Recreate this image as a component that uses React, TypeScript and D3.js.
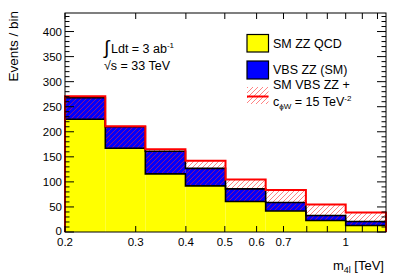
import React from 'react'
import * as d3 from 'd3'

// bin edges in TeV (log-spaced) and stacked contents per bin
const binEdges = [0.2, 0.252, 0.317, 0.399, 0.502, 0.632, 0.796, 1.0, 1.26]
const qcd = [225, 167, 116, 92, 61, 42, 23, 13]
const vbsSM = [43, 43, 45, 35, 25, 17, 10, 8]
const vbsBSM = [46, 44, 49, 50, 44, 42, 32, 26] // SM VBS ZZ + c_phiW = 15 TeV^-2
const xTickLabels = [0.2, 0.3, 0.4, 0.5, 0.6, 0.7, 1]
const xTicks = [0.2, 0.3, 0.4, 0.5, 0.6, 0.7, 0.8, 0.9, 1, 1.1, 1.2]
const yMax = 437

const W = 407
const H = 276
const margin = { top: 13, right: 21, bottom: 44, left: 65 }
const font = 'Liberation Sans, Arial, Helvetica, sans-serif'

const App = () => {
  const x = d3.scaleLog().domain([0.2, 1.26]).range([margin.left, W - margin.right])
  const y = d3.scaleLinear().domain([0, yMax]).range([H - margin.bottom, margin.top])

  const qcdTop = qcd
  const smTop = qcd.map((d, i) => d + vbsSM[i])
  const bsmTop = qcd.map((d, i) => d + vbsBSM[i])

  // step outline of a histogram, closed down to zero at both ends
  const stepPath = (vals: number[]) => {
    const p = d3.path()
    p.moveTo(x(binEdges[0]), y(0))
    vals.forEach((v, i) => {
      p.lineTo(x(binEdges[i]), y(v))
      p.lineTo(x(binEdges[i + 1]), y(v))
    })
    p.lineTo(x(binEdges[binEdges.length - 1]), y(0))
    return p.toString()
  }

  const yTicksMajor = d3.range(0, 401, 50)
  const yTicksMinor = d3.range(0, yMax, 10)
  const x0 = margin.left
  const x1 = W - margin.right
  const yb = H - margin.bottom
  const yt = margin.top

  return (
    <svg width={W} height={H} style={{ position: 'absolute', left: 0, top: 0, background: 'white' }}
      fontFamily={font}>
      <defs>
        <pattern id="hatch" patternUnits="userSpaceOnUse" width="5" height="5">
          <path d="M-1,6 L6,-1 M-2,2 L2,-2 M3,7 L7,3" stroke="#ff2020" strokeWidth="0.8" opacity="0.7" />
        </pattern>
      </defs>
      <rect x={0} y={0} width={W} height={H} fill="white" />

      {/* bins */}
      {qcd.map((d, i) => {
        const xa = x(binEdges[i])
        const xb = x(binEdges[i + 1])
        return (
          <g key={i}>
            <rect x={xa} y={y(qcdTop[i])} width={xb - xa} height={y(0) - y(qcdTop[i])} fill="#ffff00" />
            <rect x={xa} y={y(smTop[i])} width={xb - xa} height={y(qcdTop[i]) - y(smTop[i])} fill="#0000ff" />
            <rect x={xa} y={y(bsmTop[i])} width={xb - xa} height={y(qcdTop[i]) - y(bsmTop[i])} fill="url(#hatch)" />
          </g>
        )
      })}
      {/* black outlines of stacked histograms */}
      <path d={stepPath(qcdTop)} fill="none" stroke="black" strokeWidth={1.6} />
      <path d={stepPath(smTop)} fill="none" stroke="black" strokeWidth={1.6} />
      {/* red outline */}
      <path d={stepPath(bsmTop)} fill="none" stroke="#ff0000" strokeWidth={2} />

      {/* frame */}
      <rect x={x0} y={yt} width={x1 - x0} height={yb - yt} fill="none" stroke="black" strokeWidth={1} />

      {/* y ticks */}
      {yTicksMinor.map(t => {
        const len = t % 50 === 0 ? 9 : 4.5
        return (
          <g key={'y' + t} stroke="black" strokeWidth={1}>
            <line x1={x0} x2={x0 + len} y1={y(t)} y2={y(t)} />
            <line x1={x1} x2={x1 - len} y1={y(t)} y2={y(t)} />
          </g>
        )
      })}
      {yTicksMajor.map(t => (
        <text key={'yl' + t} x={x0 - 3} y={y(t) + (t === 0 ? 3 : 4)} fontSize={11.5} textAnchor="end">{t}</text>
      ))}

      {/* x ticks */}
      {xTicks.map(t => (
        <g key={'x' + t} stroke="black" strokeWidth={1}>
          <line x1={x(t)} x2={x(t)} y1={yb} y2={yb - 6} />
          <line x1={x(t)} x2={x(t)} y1={yt} y2={yt + 6} />
        </g>
      ))}
      {xTickLabels.map(t => (
        <text key={'xl' + t} x={x(t)} y={yb + 14} fontSize={11.5} textAnchor="middle">{t}</text>
      ))}

      {/* axis titles */}
      <text x={384} y={270} fontSize={13} textAnchor="end">
        m<tspan fontSize={9} dy={3}>4l</tspan><tspan dy={-3}> [TeV]</tspan>
      </text>
      <text transform="translate(18,11) rotate(-90)" fontSize={13.5} textAnchor="end">Events / bin</text>

      {/* annotation */}
      <text x={104} y={54} fontSize={19}>∫</text>
      <text x={111} y={53} fontSize={12.5}>Ldt = 3 ab<tspan fontSize={8} dy={-5}>-1</tspan></text>
      <text x={104} y={70} fontSize={12.5}>√s = 33 TeV</text>

      {/* legend */}
      <rect x={247} y={34.5} width={21.5} height={17.5} fill="#ffff00" stroke="black" strokeWidth={1.2} />
      <text x={273} y={47.5} fontSize={12.5}>SM ZZ QCD</text>
      <rect x={247} y={61} width={21.5} height={18} fill="#0000ff" stroke="black" strokeWidth={1.2} />
      <text x={273} y={74} fontSize={12.5}>VBS ZZ (SM)</text>
      <rect x={247} y={87} width={21.5} height={17} fill="url(#hatch)" />
      <line x1={247} x2={268.5} y1={96.5} y2={96.5} stroke="#ff0000" strokeWidth={2} />
      <text x={273} y={89} fontSize={12.5}>SM VBS ZZ +</text>
      <text x={273} y={106} fontSize={12.5}>
        c<tspan fontSize={8} dy={3}>ϕW</tspan><tspan dy={-3}> = 15 TeV</tspan><tspan fontSize={8} dy={-5}>-2</tspan>
      </text>
    </svg>
  )
}

export default App
